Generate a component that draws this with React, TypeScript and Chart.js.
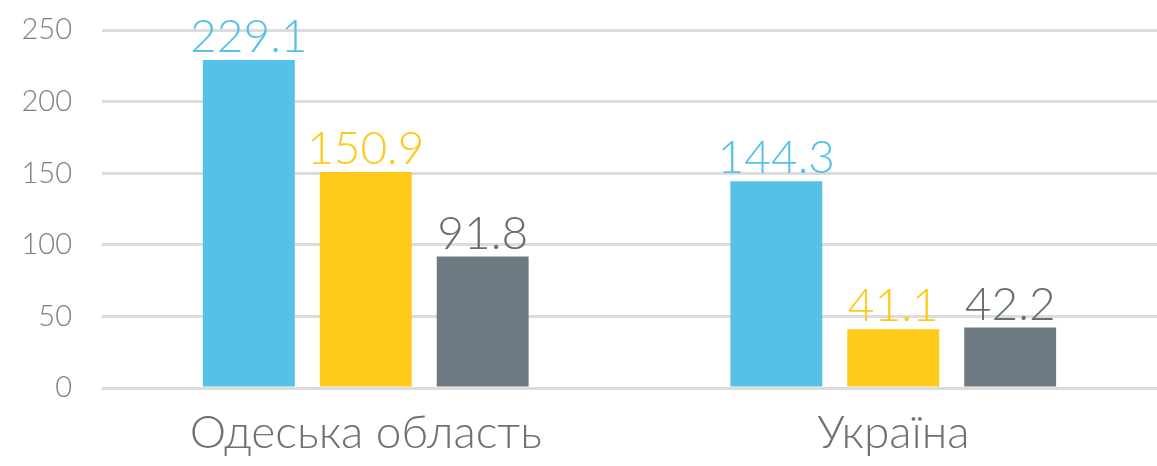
import React, { useEffect, useRef } from "react";
import { Chart, registerables } from "chart.js";

Chart.register(...registerables);

const categories = ["Одеська область", "Україна"];
const seriesA = [229.1, 144.3];
const seriesB = [150.9, 41.1];
const seriesC = [91.8, 42.2];
const yTicks = [0, 50, 100, 150, 200, 250];

const barColors = ["#55C1E6", "#FFC919", "#6E7A81"];
const labelColors = ["#55C1E6", "#FFC919", "#646E74"];
const FONT = "Lato";

const labelPlugin = {
  id: "barValueLabels",
  afterDatasetsDraw(chart: any) {
    const ctx = chart.ctx;
    ctx.save();
    ctx.font = `300 46px ${FONT}`;
    ctx.textAlign = "center";
    ctx.textBaseline = "alphabetic";
    chart.data.datasets.forEach((ds: any, di: number) => {
      const meta = chart.getDatasetMeta(di);
      meta.data.forEach((bar: any, i: number) => {
        ctx.fillStyle = labelColors[di];
        ctx.fillText(ds.data[i].toFixed(1), bar.x, bar.y - 8);
      });
    });
    ctx.restore();
  },
};

export default function App() {
  const ref = useRef<HTMLCanvasElement | null>(null);
  useEffect(() => {
    document.body.style.margin = "0";
    const chart = new Chart(ref.current!, {
      type: "bar",
      data: {
        labels: categories,
        datasets: [
          { data: seriesA, backgroundColor: barColors[0] },
          { data: seriesB, backgroundColor: barColors[1] },
          { data: seriesC, backgroundColor: barColors[2] },
        ],
      },
      options: {
        animation: false,
        responsive: false,
        layout: { padding: { top: 30, left: 0, right: 0, bottom: 0 } },
        plugins: { legend: { display: false }, tooltip: { enabled: false } },
        datasets: { bar: { barPercentage: 0.786, categoryPercentage: 0.665 } },
        scales: {
          x: {
            grid: { display: false, drawTicks: false },
            border: { display: false },
            ticks: {
              color: "#707070",
              font: { family: FONT, size: 46, weight: "300" as any },
              padding: 18,
              maxRotation: 0,
            },
            afterFit: (s: any) => {
              s.height = 78;
              s.paddingLeft = 0;
              s.paddingRight = 0;
            },
          },
          y: {
            min: 0,
            max: 250,
            afterBuildTicks: (s: any) => {
              s.ticks = yTicks.map((v) => ({ value: v }));
            },
            grid: { color: "#DCDCDC", lineWidth: 3, drawTicks: false },
            border: { display: false },
            ticks: {
              color: "#7E7E7E",
              font: { family: FONT, size: 29, weight: "300" as any },
              padding: 30,
            },
            afterFit: (s: any) => {
              s.width = 102;
              s.paddingTop = 0;
              s.paddingBottom = 0;
            },
          },
        },
      },
      plugins: [labelPlugin],
    });
    return () => chart.destroy();
  }, []);
  return (
    <div style={{ width: 1157, height: 466 }}>
      <canvas ref={ref} width={1157} height={466} />
    </div>
  );
}
